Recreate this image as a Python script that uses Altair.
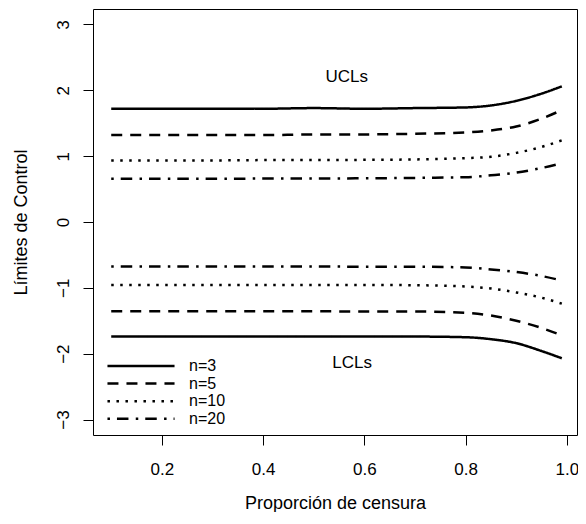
import altair as alt
import pandas as pd

# Censoring proportion grid
x_vals = [0.1, 0.2, 0.3, 0.4, 0.5, 0.6, 0.7, 0.8, 0.85, 0.9, 0.95, 0.99]

series_names = ["n=3", "n=5", "n=10", "n=20"]

ucl_n3 = [1.72, 1.72, 1.72, 1.72, 1.73, 1.72, 1.73, 1.74, 1.77, 1.84, 1.95, 2.06]
ucl_n5 = [1.32, 1.32, 1.32, 1.32, 1.33, 1.33, 1.34, 1.36, 1.39, 1.45, 1.57, 1.70]
ucl_n10 = [0.935, 0.935, 0.935, 0.94, 0.94, 0.944, 0.95, 0.97, 0.99, 1.05, 1.14, 1.24]
ucl_n20 = [0.655, 0.655, 0.655, 0.66, 0.66, 0.664, 0.67, 0.68, 0.71, 0.75, 0.82, 0.89]

lcl_n3 = [-1.74, -1.74, -1.74, -1.74, -1.74, -1.74, -1.74, -1.75, -1.78, -1.84, -1.96, -2.07]
lcl_n5 = [-1.355, -1.355, -1.355, -1.355, -1.355, -1.36, -1.36, -1.38, -1.42, -1.50, -1.61, -1.72]
lcl_n10 = [-0.955, -0.955, -0.955, -0.955, -0.955, -0.955, -0.96, -0.98, -1.01, -1.07, -1.15, -1.24]
lcl_n20 = [-0.675, -0.675, -0.675, -0.675, -0.675, -0.68, -0.68, -0.69, -0.72, -0.76, -0.82, -0.89]

annot_labels = ["UCLs", "LCLs"]
annot_x = [0.565, 0.576]
annot_y = [2.2, -2.14]

x_ticks = [0.2, 0.4, 0.6, 0.8, 1.0]
y_ticks = [-3, -2, -1, 0, 1, 2, 3]

rows = []
for lim, arrs in [("UCL", [ucl_n3, ucl_n5, ucl_n10, ucl_n20]),
                  ("LCL", [lcl_n3, lcl_n5, lcl_n10, lcl_n20])]:
    for name, ys in zip(series_names, arrs):
        for xv, yv in zip(x_vals, ys):
            rows.append({"x": xv, "y": yv, "n": name, "lim": lim})
df = pd.DataFrame(rows)
ann = pd.DataFrame({"x": annot_x, "y": annot_y, "label": annot_labels})

FONT = "Liberation Sans"
W, H = 484, 426

xscale = alt.Scale(domain=[0.064, 1.02], nice=False, zero=False)
yscale = alt.Scale(domain=[-3.235, 3.235], nice=False, zero=False)

lines = alt.Chart(df).mark_line(color="black", strokeWidth=2.5, interpolate="monotone", strokeCap="butt").encode(
    x=alt.X("x:Q", scale=xscale,
            axis=alt.Axis(values=x_ticks, format=".1f", title="Proporción de censura",
                          labelBaseline="top", labelPadding=16,
                          titleX=W / 2, titleY=73.5, titleBaseline="alphabetic", titleAlign="center")),
    y=alt.Y("y:Q", scale=yscale,
            axis=alt.Axis(values=y_ticks, format="d", title="Límites de Control",
                          labelAngle=270, labelAlign="center", labelBaseline="bottom", labelPadding=11,
                          titleX=-67, titleY=H / 2, titleAngle=270, titleBaseline="alphabetic",
                          titleAlign="center")),
    strokeDash=alt.StrokeDash("n:N", scale=alt.Scale(domain=series_names,
                                                      range=[[1, 0], [11, 8], [2.5, 6.5], [2.5, 7, 11.5, 7.3]]),
                              legend=alt.Legend(title=None, orient="none", legendX=40, legendY=349,
                                                symbolType="M-6,0H6", symbolSize=125, symbolStrokeWidth=2.5,
                                                symbolStrokeColor="black", labelFontSize=16, labelFont=FONT,
                                                labelOffset=40, padding=0, rowPadding=1.6)),
    detail="lim:N",
)

texts = alt.Chart(ann).mark_text(font=FONT, fontSize=17, color="black").encode(
    x=alt.X("x:Q", scale=xscale), y=alt.Y("y:Q", scale=yscale), text="label:N"
)

chart = alt.layer(lines, texts).properties(
    width=W, height=H,
    autosize=alt.AutoSizeParams(type="none"),
    padding={"left": 85, "top": 1, "right": 1, "bottom": 77},
).configure_view(stroke="black", strokeWidth=1).configure_axis(
    grid=False, domain=False, tickColor="black", tickSize=10, tickWidth=1,
    labelFont=FONT, labelFontSize=17, labelColor="black",
    titleFont=FONT, titleFontSize=18, titleColor="black", titleFontWeight="normal",
)

chart.save("out.html", embed_options={"renderer": "svg", "actions": False})
